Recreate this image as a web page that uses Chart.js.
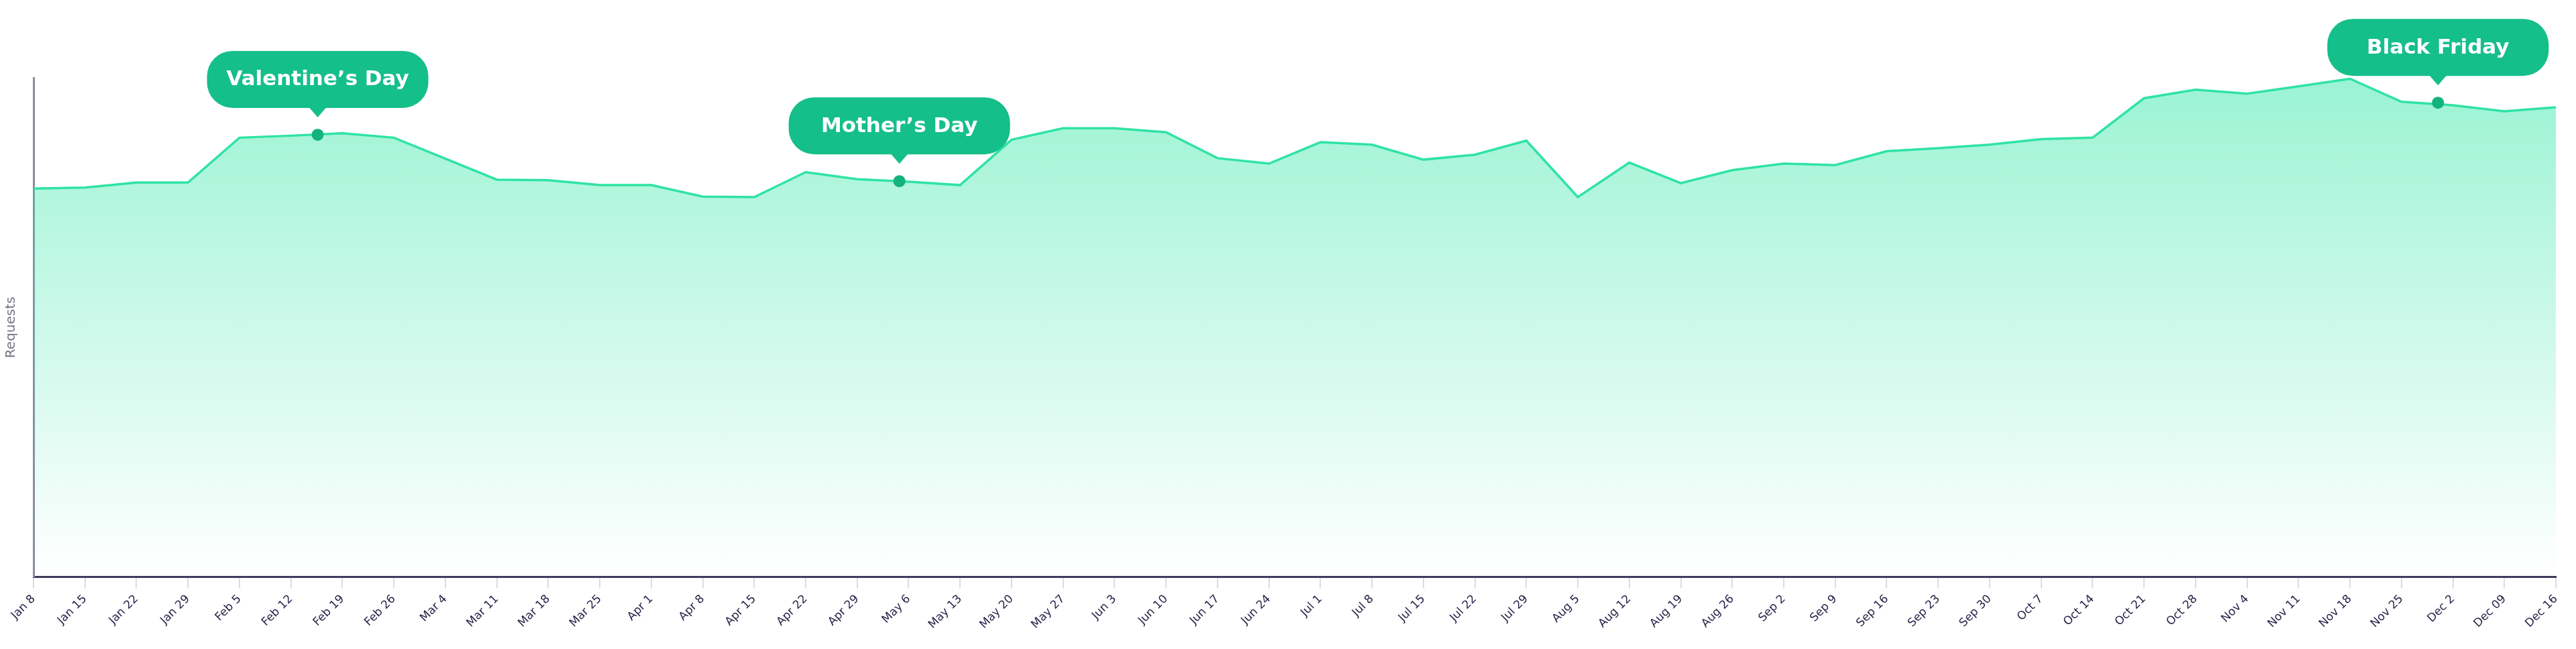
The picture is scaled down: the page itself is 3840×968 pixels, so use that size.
<!DOCTYPE html>
<html>
<head>
<meta charset="utf-8">
<title>Requests</title>
<script src="https://cdn.jsdelivr.net/npm/chart.js@4/dist/chart.umd.min.js"></script>
<style>
  html, body { margin: 0; padding: 0; background: #fff; }
  #wrap { width: 3840px; height: 968px; position: relative; }
</style>
</head>
<body>
<div id="wrap"><canvas id="requestsChart"></canvas></div>
<script>
(function () {
  "use strict";

  // week labels along the x axis
  const weeks = [
    'Jan 8', 'Jan 15', 'Jan 22', 'Jan 29', 'Feb 5', 'Feb 12', 'Feb 19', 'Feb 26',
    'Mar 4', 'Mar 11', 'Mar 18', 'Mar 25', 'Apr 1', 'Apr 8', 'Apr 15', 'Apr 22',
    'Apr 29', 'May 6', 'May 13', 'May 20', 'May 27', 'Jun 3', 'Jun 10', 'Jun 17',
    'Jun 24', 'Jul 1', 'Jul 8', 'Jul 15', 'Jul 22', 'Jul 29', 'Aug 5', 'Aug 12',
    'Aug 19', 'Aug 26', 'Sep 2', 'Sep 9', 'Sep 16', 'Sep 23', 'Sep 30', 'Oct 7',
    'Oct 14', 'Oct 21', 'Oct 28', 'Nov 4', 'Nov 11', 'Nov 18', 'Nov 25', 'Dec 2',
    'Dec 09', 'Dec 16'
  ];

  // relative request volume per week (no scale shown on the chart)
  const requests = [
    77.8, 78.0, 79.0, 79.0, 88.0, 88.4, 88.9, 88.0,
    83.8, 79.6, 79.5, 78.5, 78.5, 76.2, 76.1, 81.1,
    79.7, 79.2, 78.5, 87.6, 89.9, 89.9, 89.1, 83.9,
    82.8, 87.1, 86.6, 83.6, 84.6, 87.4, 76.1, 83.0,
    78.9, 81.5, 82.8, 82.5, 85.3, 85.9, 86.6, 87.7,
    88.0, 95.9, 97.6, 96.8, 98.3, 99.8, 95.2, 94.5,
    93.3, 94.1
  ];

  // highlighted days: name, position in weeks, value on the line
  const eventNames = ["Valentine\u2019s Day", "Mother\u2019s Day", 'Black Friday'];
  const eventWeeks = [5.52, 16.82, 46.71];
  const eventValues = [88.6, 79.3, 95.0];

  const calloutPlugin = {
    id: 'callouts',
    afterDatasetsDraw(chart) {
      const ctx = chart.ctx;
      const meta = chart.getDatasetMeta(1);
      meta.data.forEach((pt, i) => {
        const x = pt.x;
        const tipY = pt.y - 26;
        const w = 330, h = 85, r = 38;
        const bottom = tipY - 14;
        const top = bottom - h;
        ctx.save();
        ctx.fillStyle = '#15bf89';
        ctx.beginPath();
        ctx.roundRect(x - w / 2, top, w, h, r);
        ctx.fill();
        ctx.beginPath();
        ctx.moveTo(x - 13, bottom - 1);
        ctx.lineTo(x + 13, bottom - 1);
        ctx.lineTo(x, tipY);
        ctx.closePath();
        ctx.fill();
        ctx.fillStyle = '#ffffff';
        ctx.font = 'bold 31px "DejaVu Sans"';
        ctx.textAlign = 'center';
        ctx.textBaseline = 'middle';
        ctx.fillText(eventNames[i], x, top + h / 2 + 1);
        ctx.restore();
      });
    }
  };

  function areaGradient(context) {
    const area = context.chart.chartArea;
    if (!area) return 'rgba(46, 230, 165, 0.4)';
    const g = context.chart.ctx.createLinearGradient(0, area.top, 0, area.bottom);
    g.addColorStop(0, 'rgba(46, 230, 165, 0.48)');
    g.addColorStop(1, 'rgba(46, 230, 165, 0.0)');
    return g;
  }

  new Chart(document.getElementById('requestsChart'), {
    type: 'line',
    data: {
      datasets: [
        {
          label: 'Requests',
          data: requests.map((v, i) => ({x: i, y: v})),
          borderColor: '#2fe3a4',
          borderWidth: 3.5,
          backgroundColor: areaGradient,
          fill: 'origin',
          pointRadius: 0,
          tension: 0,
          order: 2
        },
        {
          label: 'Events',
          data: eventWeeks.map((w, i) => ({x: w, y: eventValues[i]})),
          showLine: false,
          pointRadius: 9,
          pointBackgroundColor: '#14b27f',
          pointBorderWidth: 0,
          order: 1
        }
      ]
    },
    options: {
      responsive: true,
      maintainAspectRatio: false,
      devicePixelRatio: 1,
      animation: false,
      layout: {
        padding: {top: 116, left: 4, right: 30, bottom: 20}
      },
      plugins: {
        legend: {display: false},
        tooltip: {enabled: false}
      },
      scales: {
        x: {
          type: 'linear',
          min: 0,
          max: weeks.length - 1,
          border: {display: true, color: '#3f3b5f', width: 3},
          grid: {
            drawOnChartArea: false,
            drawTicks: true,
            tickLength: 17,
            color: '#dcdce4',
            lineWidth: 2
          },
          ticks: {
            stepSize: 1,
            autoSkip: false,
            maxRotation: 45,
            minRotation: 45,
            padding: 6,
            color: '#221f45',
            font: {family: 'DejaVu Sans', size: 17},
            callback: v => weeks[v]
          }
        },
        y: {
          min: 0,
          max: 100,
          border: {display: true, color: '#8d8aa3', width: 3},
          grid: {display: false},
          ticks: {display: false},
          title: {
            display: true,
            text: 'Requests',
            color: '#77768a',
            font: {family: 'DejaVu Sans', size: 20, lineHeight: 1.1},
            padding: {top: 2, bottom: 14}
          }
        }
      }
    },
    plugins: [calloutPlugin]
  });
})();
</script>
</body>
</html>
